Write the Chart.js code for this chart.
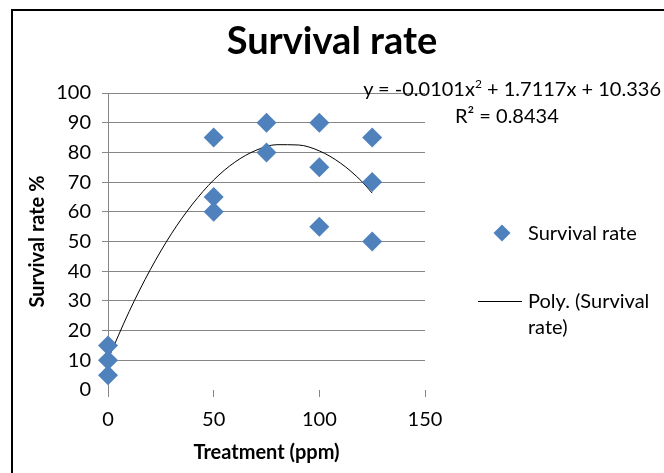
<!DOCTYPE html>
<html>
<head>
<meta charset="utf-8">
<script src="https://cdn.jsdelivr.net/npm/chart.js@4"></script>
<style>
  body { margin: 0; background: #fff; font-family: Lato, "Liberation Sans", sans-serif; }
  #wrap { position: relative; width: 664px; height: 473px; overflow: hidden; }
  #frame { position: absolute; left: 11px; top: 9px; width: 700px; height: 500px;
           border-left: 2px solid #000; border-top: 2px solid #000; }
  .txt { position: absolute; color: #000; white-space: nowrap; }
  #title { left: 0; width: 664px; top: 16px; text-align: center; font-weight: bold; font-size: 38px; }
  #eq { right: 3px; top: 76px; font-size: 20px; }
  #r2 { left: 455px; top: 103px; font-size: 20px; }
  .leg { font-size: 20px; left: 528px; }
  #dia { position: absolute; left: 496px; top: 227px; width: 12px; height: 12px;
         background: #4f81bd; transform: rotate(45deg); }
  #lin { position: absolute; left: 478px; top: 301px; width: 44px; height: 1px; background: #000; }
</style>
</head>
<body>
<div id="wrap">
  <div id="frame"></div>
  <canvas id="c" width="664" height="473"></canvas>
  <div class="txt" id="title">Survival rate</div>
  <div class="txt" id="eq">y = -0.0101x<sup style="font-size:12px">2</sup> + 1.7117x + 10.336</div>
  <div class="txt" id="r2">R² = 0.8434</div>
  <div id="dia"></div>
  <div class="txt leg" style="top:220px">Survival rate</div>
  <div id="lin"></div>
  <div class="txt leg" style="top:288px">Poly. (Survival</div>
  <div class="txt leg" style="top:314px">rate)</div>
</div>
<script>
// measured points
const treatment = [0, 0, 0, 50, 50, 50, 75, 75, 100, 100, 100, 125, 125, 125];
const survival  = [15, 10, 5, 85, 65, 60, 90, 80, 90, 75, 55, 85, 70, 50];

// trendline
const trendX = [0, 10, 20, 30, 40, 50, 60, 70, 80, 90, 100, 110, 120, 125];
const trendY = [10.3, 26.4, 40.5, 52.6, 62.6, 70.7, 76.7, 80.7, 82.6, 82.5, 80.5, 76.4, 70.3, 66.3];

const xTicks = [0, 50, 100, 150];
const yTicks = [0, 10, 20, 30, 40, 50, 60, 70, 80, 90, 100];

let pts = [];
for (let i = 0; i < treatment.length; i++) {
    pts.push({x: treatment[i], y: survival[i]});
}
let trend = [];
for (let i = 0; i < trendX.length; i++) {
    trend.push({x: trendX[i], y: trendY[i]});
}

const font = 'Lato, "Liberation Sans", sans-serif';
const gray = '#868686';

new Chart(document.getElementById('c'), {
    type: 'scatter',
    data: {
        datasets: [{
            label: 'Survival rate',
            data: pts,
            pointStyle: 'rectRot',
            pointRadius: 10,
            pointHoverRadius: 10,
            backgroundColor: '#4f81bd',
            borderColor: '#4a7ebb',
            borderWidth: 0,
            clip: false,
            order: 1
        }, {
            type: 'line',
            label: 'Poly. (Survival rate)',
            data: trend,
            borderColor: '#000',
            borderWidth: 1,
            pointRadius: 0,
            fill: false,
            cubicInterpolationMode: 'monotone',
            order: 2
        }]
    },
    options: {
        responsive: false,
        animation: false,
        layout: { padding: { left: 22, top: 93, right: 239, bottom: 0 } },
        plugins: {
            legend: { display: false },
            tooltip: { enabled: false }
        },
        scales: {
            x: {
                type: 'linear',
                min: 0, max: 150,
                afterBuildTicks: s => { s.ticks = xTicks.map(v => ({value: v})); },
                afterFit: s => { s.height = 83; },
                border: { display: false },
                grid: { drawOnChartArea: false, color: gray, tickLength: 7 },
                ticks: { color: '#000', font: { family: font, size: 20 }, padding: 11 },
                title: { display: true, text: 'Treatment (ppm)', color: '#000',
                         font: { family: font, size: 20, weight: 'bold' }, padding: { top: 0, bottom: 8 } }
            },
            y: {
                min: 0, max: 100,
                afterBuildTicks: s => { s.ticks = yTicks.map(v => ({value: v})); },
                afterFit: s => { s.width = 86; },
                border: { display: true, color: gray },
                grid: { color: c => c.tick && c.tick.value === 0 ? 'rgba(0,0,0,0)' : gray, tickLength: 6 },
                ticks: { color: '#000', font: { family: font, size: 20 }, padding: 11 },
                title: { display: true, text: 'Survival rate %', color: '#000',
                         font: { family: font, size: 20, weight: 'bold' }, padding: { bottom: 0 } }
            }
        }
    }
});
</script>
</body>
</html>
